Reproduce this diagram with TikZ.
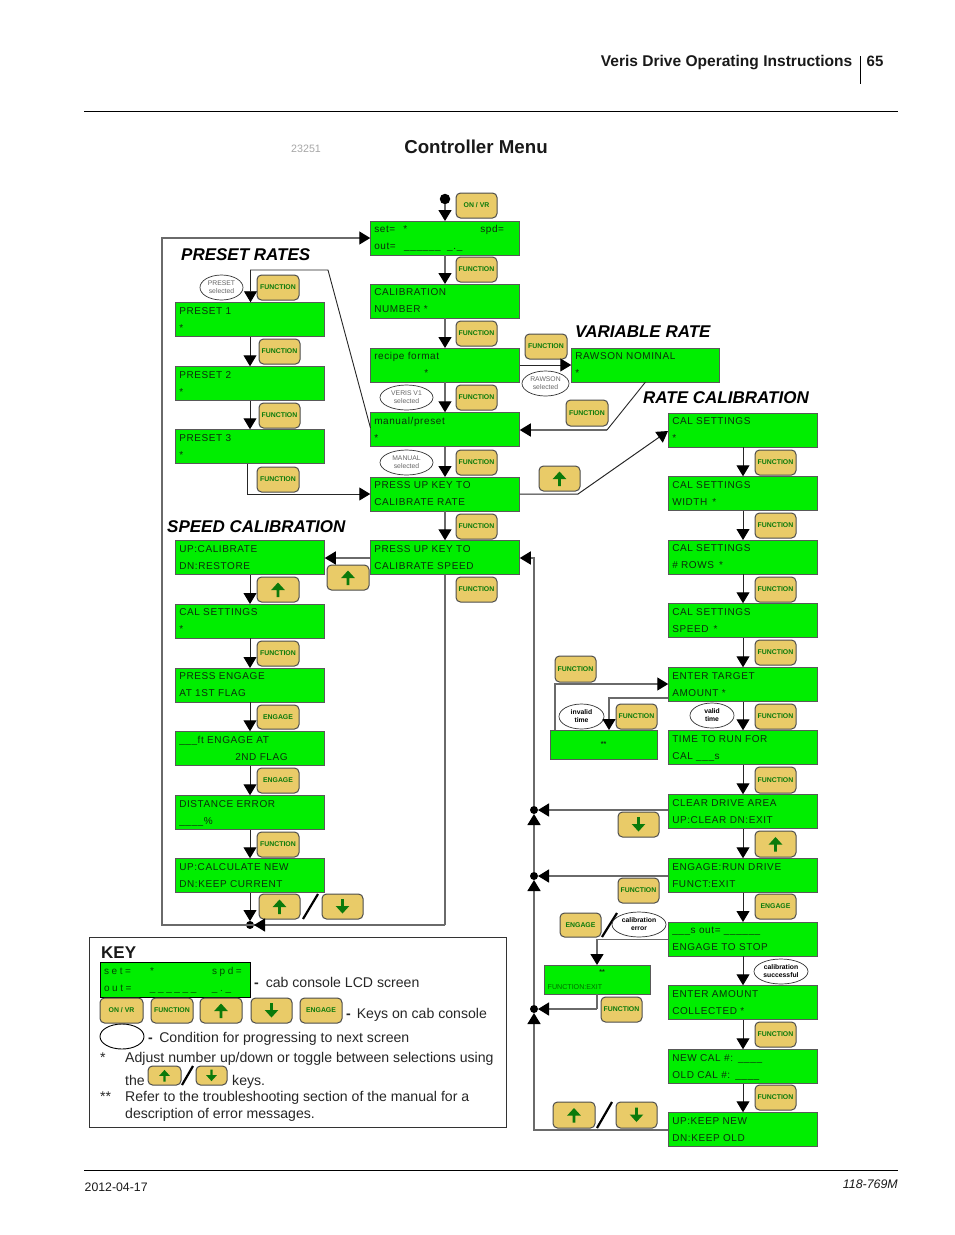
\documentclass[tikz,border=0pt]{standalone}
\usepackage{fontspec}
\setmainfont{Liberation Sans}
\newfontfamily\lcdfont[LetterSpace=6]{Liberation Sans}
\newfontfamily\keylcdfont[LetterSpace=26]{Liberation Sans}
\usetikzlibrary{arrows.meta,shapes.geometric}
\definecolor{lcdgreen}{HTML}{00EE00}
\definecolor{keyfill}{HTML}{E9CB68}
\definecolor{keygreen}{HTML}{0B7A0B}
\definecolor{lcdtext}{HTML}{0C2E0C}
\definecolor{flowgrey}{HTML}{6A6A6A}
\tikzset{
  lcd/.style={draw=black!65,line width=0.9pt,fill=lcdgreen,inner xsep=4pt,inner ysep=0pt,outer sep=0pt,align=left,text=lcdtext,font=\lcdfont\fontsize{10}{17}\selectfont},
  keybtn/.style={draw=black!70,line width=1pt,fill=keyfill,rounded corners=4.5pt,inner sep=0pt,outer sep=0pt,text=keygreen,font=\bfseries\fontsize{6.9}{8}\selectfont},
  cond/.style={ellipse,draw=black!80,line width=0.7pt,fill=white,inner sep=0pt,outer sep=0pt,align=center,font=\fontsize{6.8}{8}\selectfont},
  dotnode/.style={circle,fill=black,inner sep=0pt,outer sep=0pt,minimum size=8pt},
  head/.style={font=\bfseries\itshape\fontsize{17}{20}\selectfont,inner sep=0pt,anchor=base west},
  body/.style={font=\fontsize{14.1}{16}\selectfont,inner sep=0pt,anchor=base west,text=black!85},
  big/.style={-{Triangle[length=11pt,width=13pt,color=black,fill=black]}},
  flowg/.style={draw=flowgrey,line width=1.4pt,big},
  flowk/.style={draw=black!85,line width=1pt,big},
  plaing/.style={draw=flowgrey,line width=1.4pt},
  slashline/.style={draw=black,line width=2.2pt},
}
\newcommand{\geom}[4]{%
  \pgfmathsetmacro{\bw}{#3-#1}\pgfmathsetmacro{\bh}{#4-#2}%
  \pgfmathsetmacro{\bx}{(#1+#3)/2}\pgfmathsetmacro{\by}{(#2+#4)/2}}
\newcommand{\lcdbox}[7]{\geom{#2}{#3}{#4}{#5}%
  \node[lcd,minimum width=\bw pt-0.5pt,minimum height=\bh pt-0.5pt,text width={\bw pt-8.5pt}] (#1) at (\bx,\by) {\strut #6\\\strut #7};}
\newcommand{\keybox}[6]{\geom{#2}{#3}{#4}{#5}%
  \node[keybtn,minimum width=\bw pt,minimum height=\bh pt] (#1) at (\bx,\by) {\raisebox{-2.2pt}{#6}};}
\newcommand{\upkey}[6][1]{\geom{#3}{#4}{#5}{#6}%
  \node[keybtn,minimum width=\bw pt,minimum height=\bh pt] (#2) at (\bx,\by) {};
  \fill[keygreen,shift={(\bx,\by)},scale=#1] (-1.3,7.5)--(-1.3,0.5)--(-6.8,0.5)--(0,-7)--(6.8,0.5)--(1.3,0.5)--(1.3,7.5)--cycle;}
\newcommand{\downkey}[6][1]{\geom{#3}{#4}{#5}{#6}%
  \node[keybtn,minimum width=\bw pt,minimum height=\bh pt] (#2) at (\bx,\by) {};
  \fill[keygreen,shift={(\bx,\by)},scale=#1] (-1.3,-7.5)--(-1.3,-0.5)--(-6.8,-0.5)--(0,7)--(6.8,-0.5)--(1.3,-0.5)--(1.3,-7.5)--cycle;}
\newcommand{\condell}[6]{\geom{#2}{#3}{#4}{#5}%
  \node[cond,minimum width=\bw pt,minimum height=\bh pt] (#1) at (\bx,\by) {\vphantom{p}#6};}
\newcommand{\gtx}[2]{\textcolor{black!60}{#1}\\\textcolor{black!60}{#2}}
\newcommand{\btx}[2]{\textbf{#1}\\\textbf{#2}}
\begin{document}
\begin{tikzpicture}[x=1pt,y=-1pt]
\useasboundingbox (0,0) rectangle (954,1235);
% page furniture
\node[font=\bfseries\fontsize{15.55}{17}\selectfont,anchor=base east,inner sep=0pt,text=black!90] (title) at (852.5,66) {Veris Drive Operating Instructions};
\node[font=\bfseries\fontsize{15}{17}\selectfont,anchor=base west,inner sep=0pt,text=black!90] (pg) at (866.5,66) {65};
\draw[black,line width=0.8pt] (860,56)--(860,84);
\draw[black,line width=0.8pt] (84,111)--(898,111);
\draw[black,line width=0.8pt] (84,1170.5)--(898,1170.5);
\node[font=\fontsize{12.3}{14}\selectfont,anchor=base west,inner sep=0pt,text=black!90] (date) at (84.5,1191) {2012-04-17};
\node[font=\itshape\fontsize{12.4}{14}\selectfont,anchor=base east,inner sep=0pt,text=black!90] (pn) at (898,1188) {118-769M};
\node[font=\fontsize{10.7}{12}\selectfont,anchor=base west,inner sep=0pt,text=black!35] (fig) at (291,152) {23251};
\node[font=\bfseries\fontsize{18.7}{21}\selectfont,anchor=base,inner sep=0pt,text=black!90] (ctitle) at (476,153) {Controller Menu};
% headings
\node[head] (hp) at (181,260) {PRESET RATES};
\node[head] (hv) at (575,337) {VARIABLE RATE};
\node[head] (hr) at (643,403) {RATE CALIBRATION};
\node[head] (hs) at (167,532) {SPEED CALIBRATION};
% centre column
\lcdbox{top}{370}{221}{520}{255}{\makebox[29pt][l]{set=}\makebox[77pt][l]{*}spd=}{\makebox[30pt][l]{out=}\makebox[43pt][l]{\_\_\_\_\_\_}\_.\_}
\lcdbox{calnum}{370}{284}{520}{318}{CALIBRATION}{NUMBER *}
\lcdbox{recipe}{370}{348}{520}{382}{recipe format}{\hspace{50pt}*}
\lcdbox{manual}{370}{412}{520}{447}{manual/preset}{*}
\lcdbox{pressrate}{370}{477}{520}{511}{PRESS UP KEY TO}{CALIBRATE RATE}
\lcdbox{pressspd}{370}{540}{520}{575}{PRESS UP KEY TO}{CALIBRATE SPEED}
% preset column
\lcdbox{pone}{175}{302}{325}{337}{PRESET 1}{*}
\lcdbox{ptwo}{175}{366}{325}{401}{PRESET 2}{*}
\lcdbox{pthree}{175}{429}{325}{464}{PRESET 3}{*}
% speed column
\lcdbox{supcal}{175}{540}{325}{575}{UP:CALIBRATE}{DN:RESTORE}
\lcdbox{scal}{175}{604}{325}{638}{CAL SETTINGS}{*}
\lcdbox{sfirst}{175}{668}{325}{702}{PRESS ENGAGE}{AT 1ST FLAG}
\lcdbox{ssecond}{175}{731}{325}{766}{\_\_\_ft ENGAGE AT}{\hspace{56pt}2ND FLAG}
\lcdbox{sdist}{175}{795}{325}{830}{DISTANCE ERROR}{\_\_\_\_\%}
\lcdbox{snew}{175}{858}{325}{893}{UP:CALCULATE NEW}{DN:KEEP CURRENT}
% right column
\lcdbox{rawson}{571}{348}{720}{382}{RAWSON NOMINAL}{*}
\lcdbox{rcal}{668}{413}{818}{447}{CAL SETTINGS}{*}
\lcdbox{rwidth}{668}{476}{818}{511}{CAL SETTINGS}{WIDTH \,*}
\lcdbox{rrows}{668}{540}{818}{574}{CAL SETTINGS}{\# ROWS \,*}
\lcdbox{rspeed}{668}{603}{818}{638}{CAL SETTINGS}{SPEED \,*}
\lcdbox{rtarget}{668}{667}{818}{702}{ENTER TARGET}{AMOUNT *}
\lcdbox{rtime}{668}{730}{818}{765}{TIME TO RUN FOR}{CAL \_\_\_s}
\lcdbox{rclear}{668}{794}{818}{829}{CLEAR DRIVE AREA}{UP:CLEAR DN:EXIT}
\lcdbox{rrun}{668}{858}{818}{893}{ENGAGE:RUN DRIVE}{FUNCT:EXIT}
\lcdbox{rstop}{668}{922}{818}{956}{\_\_\_s out= \_\_\_\_\_\_}{ENGAGE TO STOP}
\lcdbox{ramount}{668}{985}{818}{1020}{ENTER AMOUNT}{COLLECTED *}
\lcdbox{rnew}{668}{1049}{818}{1084}{NEW CAL \#: \_\_\_\_}{OLD CAL \#: \_\_\_\_}
\lcdbox{rkeep}{668}{1112}{818}{1147}{UP:KEEP NEW}{DN:KEEP OLD}
% small error boxes
\geom{550}{730}{657}{759}
\node[lcd,align=center,minimum width=\bw pt,minimum height=\bh pt,font=\bfseries\fontsize{7}{8}\selectfont] (invbox) at (\bx,\by) {**};
\geom{544}{965}{650}{994}
\node[lcd,minimum width=\bw pt,minimum height=\bh pt] (errbox) at (\bx,\by) {};
\node[font=\bfseries\fontsize{7}{8}\selectfont,inner sep=0pt,text=lcdtext] (errstar) at (602,972.5) {**};
\node[font=\fontsize{7.1}{8}\selectfont,inner sep=0pt,anchor=west,text=black!55!lcdgreen] (errmsg) at (547.5,987) {FUNCTION:EXIT};
% keys
\keybox{konvr}{456}{193}{497}{218}{ON / VR}
\keybox{kf1}{456}{257}{497}{282}{FUNCTION}
\keybox{kf2}{456}{321}{497}{346}{FUNCTION}
\keybox{kf3}{456}{385}{497}{410}{FUNCTION}
\keybox{kf4}{456}{450}{497}{475}{FUNCTION}
\keybox{kf5}{456}{514}{497}{539}{FUNCTION}
\keybox{kf6}{456}{577}{497}{602}{FUNCTION}
\keybox{kfv}{525}{334}{567}{359}{FUNCTION}
\keybox{kfb}{566}{400}{608}{426}{FUNCTION}
\upkey{kur}{539}{466}{580}{491}
\keybox{kps}{257}{275}{299}{300}{FUNCTION}
\keybox{kp1}{259}{339}{300}{364}{FUNCTION}
\keybox{kp2}{259}{403}{300}{428}{FUNCTION}
\keybox{kp3}{257}{467}{299}{492}{FUNCTION}
\upkey{kus}{327}{565}{369}{590}
\upkey{ku2}{257}{577}{299}{602}
\keybox{ks1}{257}{641}{299}{666}{FUNCTION}
\keybox{ks2}{257}{705}{299}{729}{ENGAGE}
\keybox{ks3}{257}{768}{299}{793}{ENGAGE}
\keybox{ks4}{257}{832}{299}{857}{FUNCTION}
\upkey{ks5}{259}{894}{300}{919}
\downkey{ks6}{322}{894}{363}{919}
\draw[slashline] (303,919)--(318,894);
\keybox{kr1}{755}{450}{796}{475}{FUNCTION}
\keybox{kr2}{755}{513}{796}{538}{FUNCTION}
\keybox{kr3}{755}{577}{796}{602}{FUNCTION}
\keybox{kr4}{755}{640}{796}{665}{FUNCTION}
\keybox{kr5}{755}{704}{796}{729}{FUNCTION}
\keybox{kr6}{755}{767}{796}{793}{FUNCTION}
\upkey{kr7}{755}{831}{796}{857}
\keybox{kr8}{755}{894}{796}{919}{ENGAGE}
\keybox{kr9}{755}{1022}{796}{1047}{FUNCTION}
\keybox{kr10}{755}{1085}{796}{1110}{FUNCTION}
\keybox{kl1}{555}{656}{596}{682}{FUNCTION}
\keybox{kl2}{616}{704}{657}{729}{FUNCTION}
\downkey{kl3}{618}{812}{659}{837}
\keybox{kl4}{618}{878}{659}{903}{FUNCTION}
\keybox{kl5}{560}{913}{601}{937}{ENGAGE}
\draw[slashline] (602,937)--(617,913);
\keybox{kl6}{601}{997}{642}{1022}{FUNCTION}
\upkey{kl7}{553}{1102}{595}{1128}
\downkey{kl8}{616}{1102}{657}{1128}
\draw[slashline] (597,1128)--(612,1102);
% condition ellipses
\condell{cp}{200}{275}{243}{300}{\gtx{PRESET}{selected}}
\condell{cv}{380}{385}{433}{410}{\gtx{VERIS V1}{selected}}
\condell{cm}{380}{450}{433}{475}{\gtx{MANUAL}{selected}}
\condell{cr}{522}{371}{569}{396}{\gtx{RAWSON}{selected}}
\condell{ci}{559}{704}{604}{729}{\btx{invalid}{time}}
\condell{cok}{690}{703}{734}{728}{\btx{valid}{time}}
\condell{ce}{612}{912}{666}{937}{\btx{calibration}{error}}
\condell{cs}{754}{959}{808}{984}{\btx{calibration}{successful}}
% junction dots
\node[dotnode,minimum size=10.5pt] (start) at (445,199) {};
\node[dotnode] (d1) at (534,810) {};
\node[dotnode] (d2) at (534,876) {};
\node[dotnode] (d3) at (534,1009) {};
\node[dotnode] (d4) at (250,925) {};
% way-points
\coordinate (wtop) at (162,238);
\coordinate (wbl) at (162,925);
\coordinate (wbr) at (445,925);
\coordinate (wa) at (328,270);
\coordinate (wb) at (250.5,270);
\coordinate (wc) at (370.5,428);
\coordinate (wd) at (247.5,494);
\coordinate (we) at (607,430);
\coordinate (wf) at (645.5,382);
\coordinate (wg) at (578,494);
\coordinate (wh) at (668,431);
\coordinate (wi) at (534,558);
\coordinate (wj) at (534,1130);
\coordinate (wk) at (555,684);
\coordinate (wl) at (609,698);
\coordinate (wm) at (597,939.5);
\coordinate (wn) at (597,1009);
\coordinate (wo) at (555,730);
% centre flow
\draw[flowg] (start)--(top);
\draw[flowg] (top)--(calnum);
\draw[flowg] (calnum)--(recipe);
\draw[flowg] (recipe)--(manual);
\draw[flowg] (manual)--(pressrate);
\draw[flowg] (pressrate)--(pressspd);
% return loop
\draw[flowg] (wbr)--(wbl)--(wtop)--(top.west |- wtop);
\draw[plaing] (pressspd.south)--(wbr);
\draw[flowg] (wbr)--(d4);
% preset
\draw[flowk,line width=0.9pt] (wc)--(wa)--(wb)--(pone.north -| wb);
\draw[flowk] (pone)--(ptwo);
\draw[flowk] (ptwo)--(pthree);
\draw[flowk] (pthree.south -| wd)--(wd)--(pressrate.west |- wd);
% variable rate
\draw[flowk] (recipe.east |- rawson)--(rawson.west);
\draw[flowg] (we)--(manual.east |- we);
\draw[draw=black!85,line width=0.9pt] (wf)--(we);
% rate calibration
\draw[flowk] (pressrate.east |- wg)--(wg)--(wh);
\draw[flowk] (rcal)--(rwidth);
\draw[flowk] (rwidth)--(rrows);
\draw[flowk] (rrows)--(rspeed);
\draw[flowk] (rspeed)--(rtarget);
\draw[flowk] (rtarget)--(rtime);
\draw[flowk] (rtime)--(rclear);
\draw[flowk] (rclear)--(rrun);
\draw[flowk] (rrun)--(rstop);
\draw[flowk] (rstop)--(ramount);
\draw[flowk] (ramount)--(rnew);
\draw[flowk] (rnew)--(rkeep);
% speed calibration
\draw[flowg] (pressspd.west |- wi)--(supcal.east |- wi);
\draw[flowk] (supcal)--(scal);
\draw[flowk] (scal)--(sfirst);
\draw[flowk] (sfirst)--(ssecond);
\draw[flowk] (ssecond)--(sdist);
\draw[flowk] (sdist)--(snew);
\draw[flowk] (snew)--(d4);
% left trunk
\draw[flowg] (d1)--(wi)--(pressspd.east |- wi);
\draw[flowg] (d2)--(d1);
\draw[flowg] (d3)--(d2);
\draw[flowg] (rkeep.west |- wj)--(wj)--(d3);
\draw[flowg] (rclear.west |- d1)--(d1);
\draw[flowg] (rrun.west |- d2)--(d2);
% error branches
\draw[flowg] (invbox.north -| wo)--(wk)--(rtarget.west |- wk);
\draw[flowg] (rtarget.west |- wl)--(wl)--(invbox.north -| wl);
\draw[flowg] (rstop.west |- wm)--(wm)--(errbox.north -| wm);
\draw[plaing] (errbox.south -| wn)--(wn);
\draw[flowg] (wn)--(d3);
% KEY panel
\node[draw=black!80,line width=0.9pt,minimum width=416.5pt,minimum height=190pt,inner sep=0pt,outer sep=0pt] (panel) at (297.75,1032) {};
\node[font=\bfseries\fontsize{17}{20}\selectfont,anchor=base west,inner sep=0pt,text=black!90] (kk) at (101,958) {KEY};
\geom{100}{962}{250}{997}
\node[lcd,text=black!70!lcdgreen,font=\keylcdfont\fontsize{10}{17}\selectfont,minimum width=\bw pt,minimum height=\bh pt,text width={\bw pt-8pt},draw=black] (klcd) at (\bx,\by) {\strut\makebox[46pt][l]{set=}\makebox[62pt][l]{*}spd=\\\strut\makebox[46pt][l]{out=}\makebox[62pt][l]{\_\_\_\_\_\_}\_.\_};
\node[body] (t1) at (254,987) {\textbf{-}\hspace{3pt} cab console LCD screen};
\keybox{kk1}{100}{998}{143}{1023}{ON / VR}
\keybox{kk2}{151}{998}{193}{1023}{FUNCTION}
\upkey{kk3}{200}{998}{242}{1023}
\downkey{kk4}{251}{998}{292}{1023}
\keybox{kk5}{300}{998}{342}{1023}{ENGAGE}
\node[body] (t2) at (346,1018) {\textbf{-}\hspace{2pt} Keys on cab console};
\node[ellipse,draw=black,line width=0.9pt,minimum width=44pt,minimum height=25pt,inner sep=0pt] (kell) at (122,1036.5) {};
\node[body] (t3) at (148,1042) {\textbf{-}\hspace{2.5pt} Condition for progressing to next screen};
\node[body] (t4) at (100,1062) {*};
\node[body] (t5) at (125,1062) {Adjust number up/down or toggle between selections using};
\node[body] (t6) at (125,1085) {the};
\upkey[0.8]{kk6}{148}{1066}{181}{1085}
\draw[slashline] (182,1085)--(193,1066);
\downkey[0.8]{kk7}{196}{1066}{227}{1085}
\node[body] (t7) at (232,1085) {keys.};
\node[body] (t8) at (100,1101) {**};
\node[body] (t9) at (125,1101) {Refer to the troubleshooting section of the manual for a};
\node[body] (t10) at (125,1118) {description of error messages.};
\end{tikzpicture}
\end{document}
